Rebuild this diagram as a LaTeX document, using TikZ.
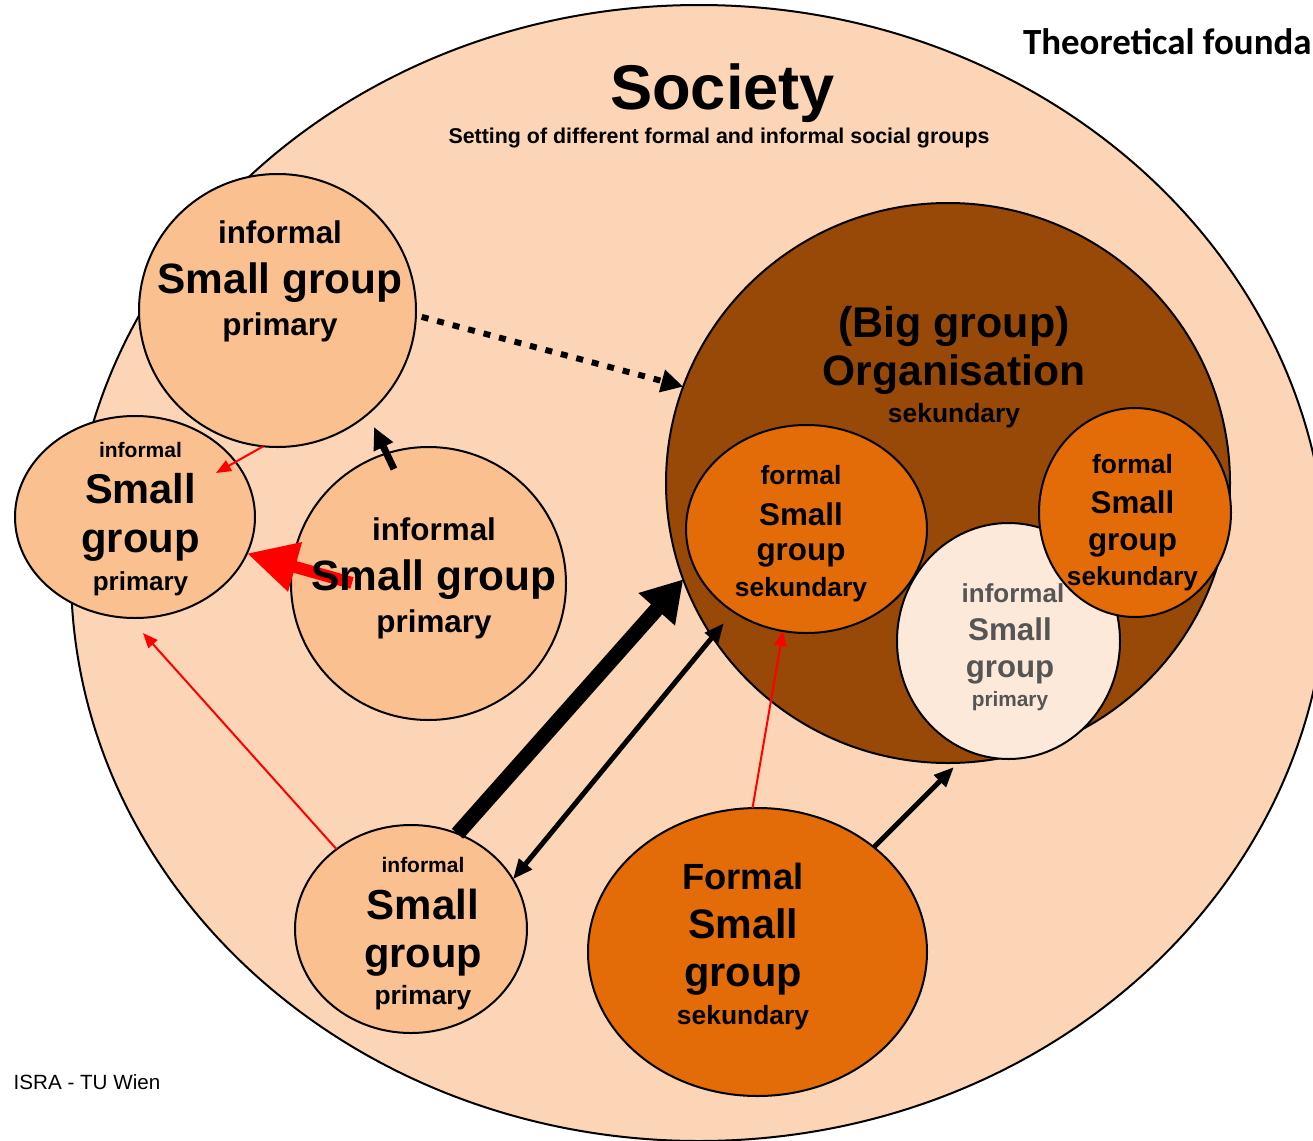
\documentclass[tikz,border=0pt]{standalone}
\usepackage{fontspec}
\setmainfont{Liberation Sans}
\newfontfamily\calibfont{Carlito}
\usetikzlibrary{arrows.meta,shapes.geometric}
\definecolor{societyc}{HTML}{FBD5B5}
\definecolor{smallinf}{HTML}{FAC090}
\definecolor{bigc}{HTML}{984807}
\definecolor{formalc}{HTML}{E36C09}
\definecolor{innerinf}{HTML}{FDE9D9}
\definecolor{greytxt}{HTML}{555555}
\newcommand\fsz[1]{\fontsize{#1}{#1}\selectfont}
\begin{document}
\begin{tikzpicture}[x=0.5pt,y=-0.5pt,
  grp/.style={ellipse,draw=black,line width=1pt,inner sep=0pt,outer sep=0pt},
  tx/.style={inner sep=0pt,outer sep=0pt,font=\bfseries\fsz{#1}},
  dotarrow/.style={line width=3pt,dash pattern=on 3.5pt off 4.5pt,-{Triangle[length=11pt,width=11pt]}},
  redthin/.style={red,line width=1pt,-{Triangle[length=7.5pt,width=6pt]}},
  redthick/.style={red,line width=6pt,-{Triangle[length=25pt,width=24pt]}},
  blk/.style={line width=3.5pt,-{Triangle[length=11pt,width=10pt]}},
  blkfat/.style={line width=7.5pt,-{Triangle[length=20pt,width=23pt]}},
  blkdbl/.style={line width=2.5pt,{Triangle[length=10pt,width=8pt]}-{Triangle[length=10pt,width=8pt]}},
  blkmid/.style={line width=2.5pt,-{Triangle[length=10pt,width=8pt]}}]
\useasboundingbox[fill=white] (0,0) rectangle (1313,1141);
% society
\node[grp,fill=societyc,minimum width=628pt,minimum height=568pt] (S) at (699,573) {};
% groups
\node[grp,fill=smallinf,minimum width=138.5pt,minimum height=136.5pt] (A) at (277.5,310.5) {};
\node[grp,fill=smallinf,minimum width=120pt,minimum height=101pt] (B) at (135,517) {};
\node[grp,fill=smallinf,minimum width=137.5pt,minimum height=136.5pt] (C) at (428.5,583.5) {};
\node[grp,fill=bigc,minimum width=282pt,minimum height=280pt] (D) at (948,483) {};
\node[grp,fill=formalc,minimum width=120.5pt,minimum height=104pt] (E) at (806.5,529) {};
\node[grp,fill=innerinf,minimum width=111.5pt,minimum height=118pt] (F) at (1008.5,641) {};
\node[grp,fill=formalc,minimum width=96pt,minimum height=104.5pt] (G) at (1135,512.5) {};
\node[grp,fill=smallinf,minimum width=116pt,minimum height=104pt] (H) at (411,929) {};
\node[grp,fill=formalc,minimum width=169.5pt,minimum height=144pt] (I) at (757.5,952) {};
% free ends
\coordinate (Bin) at (216,473);
\coordinate (Cin) at (352,583);
\coordinate (Cin2) at (394,469);
\coordinate (Anear) at (374,427);
\coordinate (Bnear) at (143,633);
\coordinate (Dnear) at (724,623);
\coordinate (Dbot) at (954,767);
% connectors
\draw[dotarrow,shorten <=3pt] (A.-2.6) -- (D.160.9);
\draw[redthin] (A.264) -- (Bin);
\draw[redthick] (Cin) -- (B.-18.9);
\draw[blk] (Cin2) -- (Anear);
\draw[redthin] (H.133.6) -- (Bnear);
\draw[blkfat] (H.64.5) -- (D.200.2);
\draw[blkdbl] (H.26.8) -- (Dnear);
\draw[redthin] (I.92) -- (E.-103.9);
\draw[blkmid] (I.42) -- (Dbot);
% titles
\node[tx=31.6] (soc) at (722.5,93.5) {Society};
\node[tx=10.7] (socsub) at (719,138) {Setting of different formal and informal social groups};
\node[inner sep=0pt,anchor=east,font=\calibfont\bfseries\fsz{18.45}] (theo) at (1312,41.5) {Theoretical founda};
\node[inner sep=0pt,font=\fsz{10.3}] (isra) at (87,1082) {ISRA - TU Wien};
% A
\node[tx=15.7] (a1) at (280,232) {informal};
\node[tx=21.2] (a2) at (280,283) {Small group};
\node[tx=15.7] (a3) at (280,327) {primary};
% B
\node[tx=10.5] (b1) at (140.5,449.5) {informal};
\node[tx=20.8] (b2) at (140.5,489) {Small};
\node[tx=20.9] (b3) at (140.5,546) {group};
\node[tx=13] (b4) at (140.5,584) {primary};
% C
\node[tx=15.7] (c1) at (434,529) {informal};
\node[tx=21.2] (c2) at (434,580) {Small group};
\node[tx=15.7] (c3) at (434,624) {primary};
% D
\node[tx=21.5] (d1) at (954,326) {(Big group)};
\node[tx=21.3] (d2) at (954,375) {Organisation};
\node[tx=13.2] (d3) at (954,416) {sekundary};
% E
\node[tx=13.2] (e1) at (801,475) {formal};
\node[tx=15.7] (e2) at (801,514) {Small};
\node[tx=15.7] (e3) at (801,555.5) {group};
\node[tx=13.2] (e4) at (801,590) {sekundary};
% F
\node[tx=13,text=greytxt] (f1) at (1013,593) {informal};
\node[tx=15.7,text=greytxt] (f2) at (1010,629) {Small};
\node[tx=15.6,text=greytxt] (f3) at (1010,672) {group};
\node[tx=10.4,text=greytxt] (f4) at (1010,701) {primary};
% G
\node[tx=13.2] (g1) at (1132.5,464) {formal};
\node[tx=15.7] (g2) at (1132.5,502) {Small};
\node[tx=15.7] (g3) at (1132.5,545) {group};
\node[tx=13.1] (g4) at (1132.5,579) {sekundary};
% H
\node[tx=10.5] (h1) at (423,865) {informal};
\node[tx=21] (h2) at (423,904) {Small};
\node[tx=20.8] (h3) at (423,961) {group};
\node[tx=13.2] (h4) at (423,998) {primary};
% I
\node[tx=18.2] (i1) at (743,876) {Formal};
\node[tx=20.6] (i2) at (743,924) {Small};
\node[tx=20.8] (i3) at (743,980) {group};
\node[tx=13.2] (i4) at (743,1018) {sekundary};
\end{tikzpicture}
\end{document}
